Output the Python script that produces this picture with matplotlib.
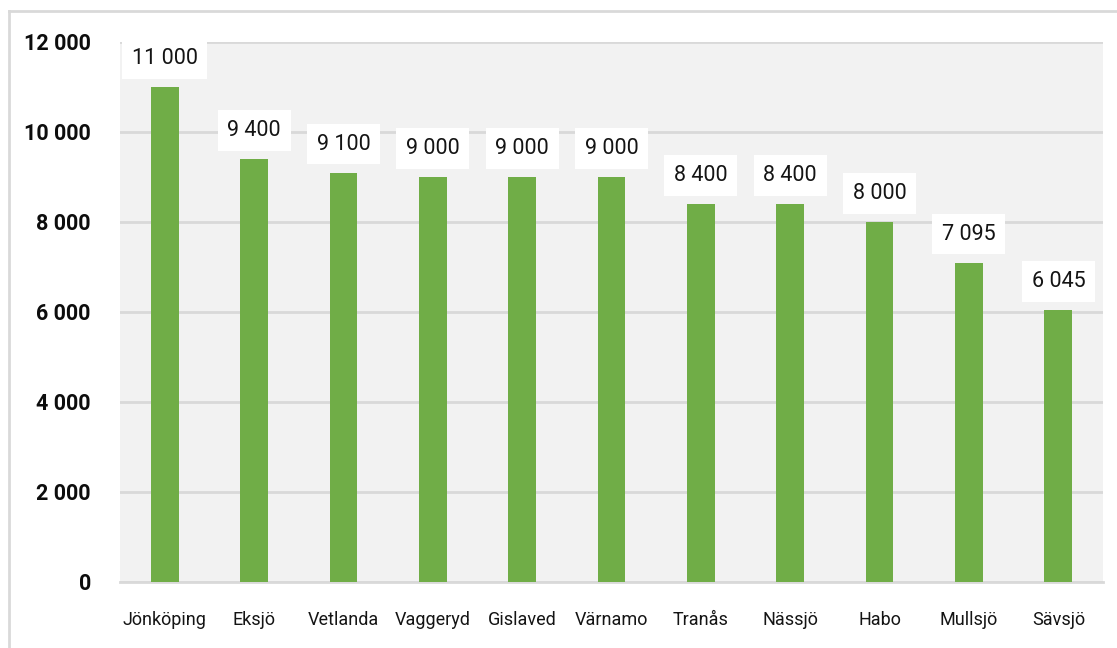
import matplotlib.pyplot as plt
from matplotlib.lines import Line2D

kommuner = ['Jönköping', 'Eksjö', 'Vetlanda', 'Vaggeryd', 'Gislaved', 'Värnamo',
            'Tranås', 'Nässjö', 'Habo', 'Mullsjö', 'Sävsjö']
values = [11000, 9400, 9100, 9000, 9000, 9000, 8400, 8400, 8000, 7095, 6045]
yticks = [0, 2000, 4000, 6000, 8000, 10000, 12000]

plt.rcParams['font.family'] = ['Roboto', 'DejaVu Sans']


def fmt(v):
    return f'{v:,}'.replace(',', ' ')


fig = plt.figure(figsize=(11.17, 6.48), dpi=100)
ax = fig.add_axes([120 / 1117, 1 - 582 / 648, 983 / 1117, 540 / 648])
ax.set_facecolor('#f2f2f2')

x = range(len(kommuner))
ax.bar(x, values, width=0.31, color='#70ad47', zorder=3)

for i, v in zip(x, values):
    ax.annotate(fmt(v), (i, v), xytext=(0, 20.5), textcoords='offset points',
                ha='center', va='center', fontsize=15.5, color='#141414',
                bbox=dict(boxstyle='square,pad=0.45', fc='white', ec='none'),
                zorder=5)

ax.set_xlim(-0.5, len(kommuner) - 0.5)
ax.set_ylim(0, 12000)
ax.set_yticks(yticks)
ax.set_yticklabels([fmt(t) for t in yticks], fontsize=15.5, fontweight='bold',
                   color='#0d0d0d')
ax.set_xticks(list(x))
ax.set_xticklabels(kommuner, fontsize=13, color='#141414')
ax.tick_params(axis='both', length=0)
ax.tick_params(axis='y', pad=21)
ax.tick_params(axis='x', pad=21)
ax.grid(axis='y', color='#d9d9d9', linewidth=2, zorder=0)
for s in ['top', 'right', 'left']:
    ax.spines[s].set_visible(False)
ax.spines['bottom'].set_color('#d9d9d9')
ax.spines['bottom'].set_linewidth(2)

# outer frame of the chart (top and left only)
fig.add_artist(Line2D([9 / 1117, 1], [1 - 11 / 648, 1 - 11 / 648],
                      transform=fig.transFigure, color='#d9d9d9', lw=2))
fig.add_artist(Line2D([9 / 1117, 9 / 1117], [0, 1 - 11 / 648],
                      transform=fig.transFigure, color='#d9d9d9', lw=2))

fig.savefig('out.png', dpi=100)
